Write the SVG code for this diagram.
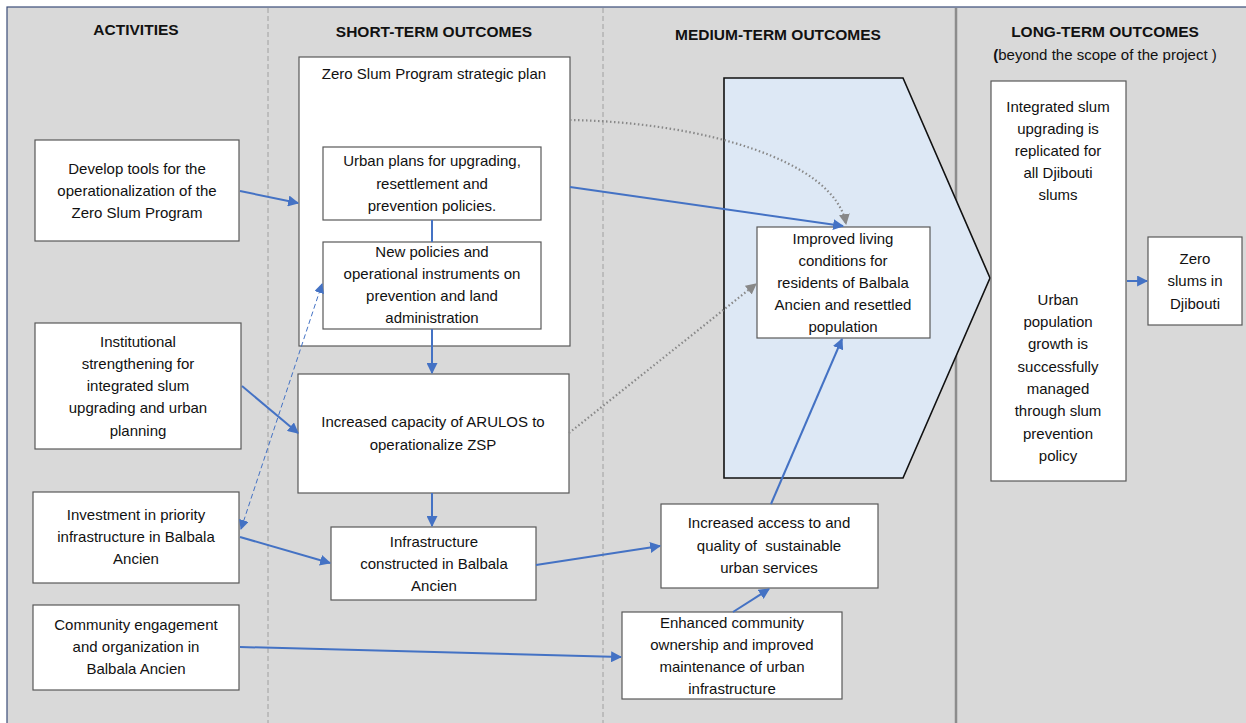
<svg xmlns="http://www.w3.org/2000/svg" width="1246" height="723" viewBox="0 0 1246 723">
<style>
text{font-family:"Liberation Sans",Arial,sans-serif;font-size:15px;fill:#111;text-anchor:middle}
.h{font-weight:bold;font-size:15.5px}
.box{fill:#fff;stroke:#595959;stroke-width:1.2}
.c{fill:none;stroke:#4472c4;stroke-width:2}
.dot{fill:none;stroke:#888;stroke-width:2.2;stroke-dasharray:1.5 2.5}
</style>
<defs>
<marker id="a" viewBox="0 0 10 10" refX="9" refY="5" markerWidth="5.5" markerHeight="5.5" orient="auto-start-reverse" markerUnits="strokeWidth"><path d="M0,0L10,5L0,10z" fill="#4472c4"/></marker>
<marker id="at" viewBox="0 0 10 10" refX="9" refY="5" markerWidth="10" markerHeight="10" orient="auto-start-reverse" markerUnits="strokeWidth"><path d="M0,0L10,5L0,10z" fill="#4472c4"/></marker>
<marker id="g" viewBox="0 0 10 10" refX="9" refY="5" markerWidth="5" markerHeight="5" orient="auto" markerUnits="strokeWidth"><path d="M0,0L10,5L0,10z" fill="#888"/></marker>
</defs>
<rect width="1246" height="723" fill="#fff"/>
<rect x="7" y="7" width="1250" height="720" fill="#d9d9d9" stroke="#3b4d78" stroke-width="1.2"/>
<g id="dividers">
<line x1="268" y1="8" x2="268" y2="723" stroke="#a0a0a0" stroke-dasharray="5 3"/>
<line x1="603" y1="8" x2="603" y2="723" stroke="#a0a0a0" stroke-dasharray="5 3"/>
<line x1="956" y1="8" x2="956" y2="723" stroke="#8c8c8c" stroke-width="2.5"/>
</g>
<g id="headers">
<text class="h" x="136" y="35">ACTIVITIES</text>
<text class="h" x="434" y="37">SHORT-TERM OUTCOMES</text>
<text class="h" x="778" y="40">MEDIUM-TERM OUTCOMES</text>
<text class="h" x="1105" y="37">LONG-TERM OUTCOMES</text>
<text x="1105" y="60"><tspan font-weight="bold">(</tspan>beyond the scope of the project )</text>
</g>
<g id="chevron"><polygon points="724,78 903,78 990,278 903,478 724,478" fill="#dde8f5" stroke="#111" stroke-width="1.6"/></g>
<g id="n-develop"><rect class="box" x="35" y="140" width="204" height="101"/>
<text x="137" y="174">Develop tools for the</text><text x="137" y="196">operationalization of the</text><text x="137" y="218">Zero Slum Program</text></g>
<g id="n-institutional"><rect class="box" x="35" y="323" width="206" height="126"/>
<text x="138" y="347">Institutional</text><text x="138" y="369">strengthening for</text><text x="138" y="391">integrated slum</text><text x="138" y="413">upgrading and urban</text><text x="138" y="436">planning</text></g>
<g id="n-investment"><rect class="box" x="33" y="492" width="206" height="91"/>
<text x="136" y="520">Investment in priority</text><text x="136" y="542">infrastructure in Balbala</text><text x="136" y="564">Ancien</text></g>
<g id="n-community"><rect class="box" x="33" y="605" width="206" height="85"/>
<text x="136" y="630">Community engagement</text><text x="136" y="652">and organization in</text><text x="136" y="674">Balbala Ancien</text></g>
<g id="n-strategic"><rect class="box" x="299" y="57" width="271" height="289"/>
<text x="434" y="79">Zero Slum Program strategic plan</text></g>
<g id="n-urbanplans"><rect class="box" x="323" y="147" width="218" height="73"/>
<text x="432" y="166">Urban plans for upgrading,</text><text x="432" y="189">resettlement and</text><text x="432" y="211">prevention policies.</text></g>
<g id="n-newpolicies"><rect class="box" x="323" y="242" width="218" height="87"/>
<text x="432" y="257">New policies and</text><text x="432" y="279">operational instruments on</text><text x="432" y="301">prevention and land</text><text x="432" y="323">administration</text></g>
<g id="n-arulos"><rect class="box" x="298" y="374" width="271" height="119"/>
<text x="433" y="427">Increased capacity of ARULOS to</text><text x="433" y="450">operationalize ZSP</text></g>
<g id="n-infra"><rect class="box" x="331" y="527" width="205" height="73"/>
<text x="434" y="547">Infrastructure</text><text x="434" y="569">constructed in Balbala</text><text x="434" y="591">Ancien</text></g>
<g id="n-improved"><rect class="box" x="757" y="227" width="173" height="111"/>
<text x="843" y="244">Improved living</text><text x="843" y="266">conditions for</text><text x="843" y="288">residents of Balbala</text><text x="843" y="310">Ancien and resettled</text><text x="843" y="332">population</text></g>
<g id="n-access"><rect class="box" x="661" y="504" width="217" height="84"/>
<text x="769" y="528">Increased access to and</text><text x="769" y="551" xml:space="preserve">quality of  sustainable</text><text x="769" y="573">urban services</text></g>
<g id="n-enhanced"><rect class="box" x="622" y="612" width="220" height="87"/>
<text x="732" y="628">Enhanced community</text><text x="732" y="650">ownership and improved</text><text x="732" y="672">maintenance of urban</text><text x="732" y="694">infrastructure</text></g>
<g id="n-longterm"><rect class="box" x="991" y="81" width="135" height="400"/>
<text x="1058" y="112">Integrated slum</text><text x="1058" y="134">upgrading is</text><text x="1058" y="156">replicated for</text><text x="1058" y="178">all Djibouti</text><text x="1058" y="200">slums</text>
<text x="1058" y="305">Urban</text><text x="1058" y="327">population</text><text x="1058" y="349">growth is</text><text x="1058" y="372">successfully</text><text x="1058" y="394">managed</text><text x="1058" y="416">through slum</text><text x="1058" y="439">prevention</text><text x="1058" y="461">policy</text></g>
<g id="n-zero"><rect class="box" x="1148" y="237" width="94" height="88"/>
<text x="1195" y="264">Zero</text><text x="1195" y="286">slums in</text><text x="1195" y="309">Djibouti</text></g>
<g id="connectors">
<path class="c" d="M240,191L298,203" marker-end="url(#a)"/>
<path class="c" d="M242,386L298,433" marker-end="url(#a)"/>
<path class="c" d="M240,537L330,563" marker-end="url(#a)"/>
<path class="c" d="M240,647L621,657" marker-end="url(#a)"/>
<path d="M241,529L322,284" fill="none" stroke="#4472c4" stroke-width="1" stroke-dasharray="5 3" marker-start="url(#at)" marker-end="url(#at)"/>
<path class="c" d="M432,220V242"/>
<path class="c" d="M432,329V373" marker-end="url(#a)"/>
<path class="c" d="M432,493V526" marker-end="url(#a)"/>
<path class="c" d="M570,187L843,226" marker-end="url(#a)"/>
<path class="c" d="M536,565L660,546" marker-end="url(#a)"/>
<path class="c" d="M771,504L842,339" marker-end="url(#a)"/>
<path class="c" d="M733,612L769,589" marker-end="url(#a)"/>
<path class="c" d="M1127,281H1147" marker-end="url(#a)"/>
<path class="dot" d="M570,120C700,122 835,160 846,224" marker-end="url(#g)"/>
<path class="dot" d="M569,433L756,284" marker-end="url(#g)"/>
</g>
</svg>
